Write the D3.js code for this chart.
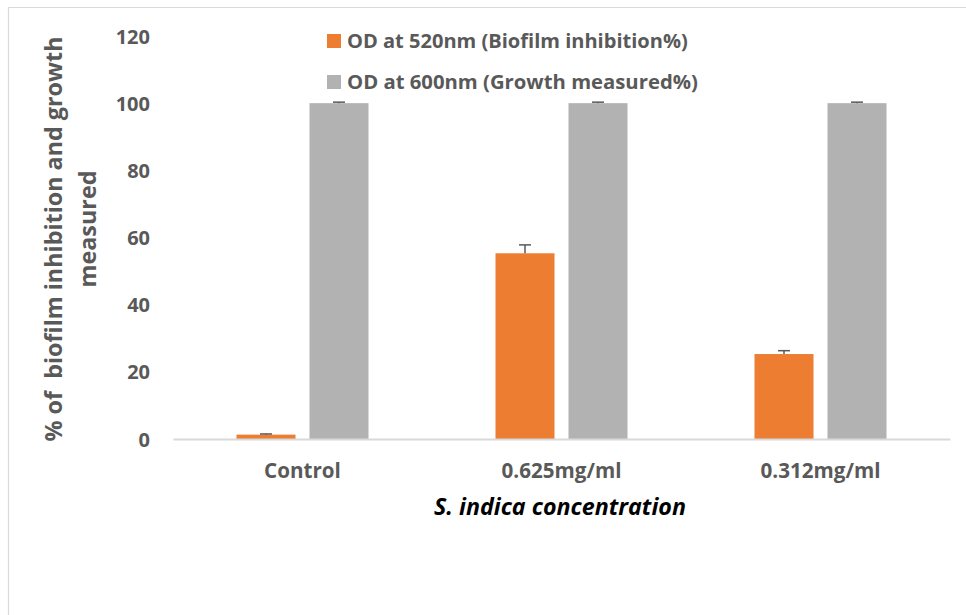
<!DOCTYPE html>
<html>
<head>
<meta charset="utf-8">
<script src="https://cdn.jsdelivr.net/npm/d3@7"></script>
<style>
html,body{margin:0;padding:0;background:#fff;}
svg{display:block;}
text{font-family:"Open Sans",sans-serif;}
</style>
</head>
<body>
<svg id="chart" width="966" height="615"></svg>
<script>
// ---- data ----
const categories = ["Control", "0.625mg/ml", "0.312mg/ml"];
const seriesNames = ["OD at 520nm (Biofilm inhibition%)", "OD at 600nm (Growth measured%)"];
const biofilmValues = [1.3, 55.3, 25.3];
const biofilmErrors = [0.2, 2.5, 1.0];
const growthValues = [100, 100, 100];
const growthErrors = [0.3, 0.3, 0.3];
const yTicks = [0, 20, 40, 60, 80, 100, 120];
const xTitle = "S. indica concentration";
const yTitleLines = ["% of  biofilm inhibition and growth", "measured"];
const colors = ["#ED7D31", "#B2B2B2"];

const seriesData = [
  {name: seriesNames[0], values: biofilmValues, errors: biofilmErrors, color: colors[0]},
  {name: seriesNames[1], values: growthValues, errors: growthErrors, color: colors[1]}
];

const svg = d3.select("#chart");
const textColor = "#595959";

// chart frame (top and left edges)
svg.append("line").attr("x1", 8).attr("x2", 966).attr("y1", 7.5).attr("y2", 7.5)
  .attr("stroke", "#D9D9D9").attr("stroke-width", 1.2);
svg.append("line").attr("x1", 8.5).attr("x2", 8.5).attr("y1", 7).attr("y2", 615)
  .attr("stroke", "#D9D9D9").attr("stroke-width", 1.2);

const plot = {left: 173, right: 950, top: 36, bottom: 439};

const x = d3.scaleBand().domain(categories).range([plot.left, plot.right]).padding(0);
const x1 = d3.scaleBand().domain(seriesNames)
  .range([x.bandwidth() / 2 - 66, x.bandwidth() / 2 + 66])
  .paddingInner(14 / 73).paddingOuter(0);
const y = d3.scaleLinear().domain([0, 120]).range([plot.bottom, plot.top]);

function fitWidth(sel, target) {
  const node = sel.node();
  const w = node.getComputedTextLength();
  const fs = parseFloat(sel.attr("font-size"));
  sel.attr("font-size", (fs * target / w).toFixed(2));
}

// y axis (labels only)
const yAxis = d3.axisLeft(y).tickValues(yTicks).tickSize(0).tickPadding(23);
const gy = svg.append("g").attr("transform", `translate(${plot.left},0)`).call(yAxis);
gy.select(".domain").remove();
gy.selectAll("text").attr("font-family", "Open Sans").attr("font-weight", "bold")
  .attr("font-size", 20).attr("fill", textColor).attr("dy", "0.35em");

// bars
const groups = svg.append("g").selectAll("g").data(seriesData).join("g");
groups.selectAll("rect").data(s => s.values.map((v, i) => ({cat: categories[i], v, e: s.errors[i], s})))
  .join("rect")
  .attr("x", d => x(d.cat) + x1(d.s.name))
  .attr("y", d => y(d.v))
  .attr("width", x1.bandwidth())
  .attr("height", d => y(0) - y(d.v))
  .attr("fill", d => d.s.color);

// x axis baseline
const xAxis = d3.axisBottom(x).tickSize(0).tickPadding(24);
const gx = svg.append("g").attr("transform", `translate(0,${plot.bottom})`).call(xAxis);
gx.select(".domain").attr("stroke", "#D9D9D9").attr("stroke-width", 2);
gx.selectAll("text").attr("font-family", "Open Sans").attr("font-weight", "bold")
  .attr("font-size", 19).attr("fill", textColor).attr("dy", "0.71em");
{
  const t = gx.selectAll("text").filter(d => d === "0.625mg/ml");
  fitWidth(t, 120);
  const fs = t.attr("font-size");
  gx.selectAll("text").attr("font-size", fs);
}

// error bars (plus only)
const eb = svg.append("g");
seriesData.forEach(s => {
  s.values.forEach((v, i) => {
    const cx = x(categories[i]) + x1(s.name) + x1.bandwidth() / 2;
    const y0 = y(v), y1 = y(v + s.errors[i]);
    eb.append("line").attr("x1", cx).attr("x2", cx).attr("y1", y0).attr("y2", y1)
      .attr("stroke", textColor).attr("stroke-width", 1.5);
    eb.append("line").attr("x1", cx - 6).attr("x2", cx + 6).attr("y1", y1).attr("y2", y1)
      .attr("stroke", textColor).attr("stroke-width", 1.5);
  });
});

// legend
const legendRows = [41, 82];
seriesData.forEach((s, i) => {
  svg.append("rect").attr("x", 327).attr("y", legendRows[i] - 7).attr("width", 14).attr("height", 14)
    .attr("fill", s.color);
  const t = svg.append("text").attr("x", 347).attr("y", legendRows[i] + 7)
    .attr("font-family", "Open Sans").attr("font-weight", "bold").attr("font-size", 20)
    .attr("fill", textColor).text(s.name);
  fitWidth(t, i === 0 ? 341 : 351);
});

// x title
const xt = svg.append("text").attr("x", 560).attr("y", 515).attr("text-anchor", "middle")
  .attr("font-family", "Open Sans").attr("font-weight", "bold").attr("font-style", "italic")
  .attr("font-size", 20).attr("fill", "#000").text(xTitle);
fitWidth(xt, 252);

// y title
const yt1 = svg.append("text").attr("transform", "translate(62,239) rotate(-90)")
  .attr("text-anchor", "middle").attr("font-family", "Open Sans").attr("font-weight", "bold")
  .attr("font-size", 20).attr("fill", textColor).style("white-space", "pre").text(yTitleLines[0]);
fitWidth(yt1, 405);
const yt2 = svg.append("text").attr("transform", "translate(96,229) rotate(-90)")
  .attr("text-anchor", "middle").attr("font-family", "Open Sans").attr("font-weight", "bold")
  .attr("font-size", yt1.attr("font-size")).attr("fill", textColor).text(yTitleLines[1]);
</script>
</body>
</html>
